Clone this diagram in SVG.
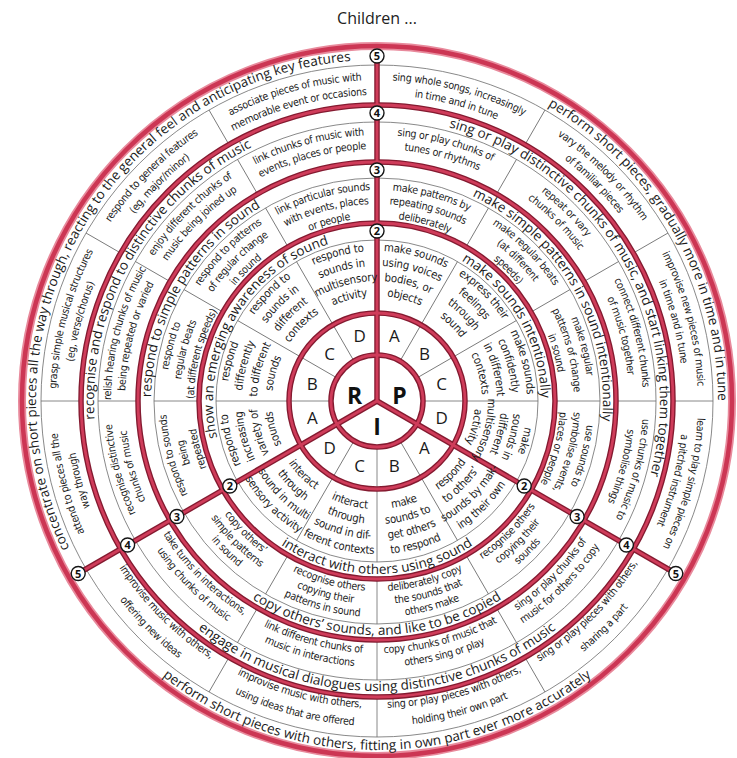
<svg xmlns="http://www.w3.org/2000/svg" width="737" height="758" viewBox="0 0 737 758">
<style>
  .it text{font-family:"Liberation Sans Narrow","DejaVu Sans Condensed","Roboto Condensed","Noto Sans",sans-serif;font-stretch:condensed;font-size:10.6px;letter-spacing:-0.28px;fill:#1c1c1c;text-anchor:middle}
  .it2 text{font-size:11.3px;letter-spacing:-0.2px}
  .hd text{font-family:"Open Sans","Noto Sans","Liberation Sans",sans-serif;font-size:13.5px;fill:#1a1a1a;text-anchor:middle}
  .thin{fill:none;stroke:#6b6b6b;stroke-width:.8}
  .redo{fill:none;stroke:#841a30;stroke-width:5.5}
  .redi{fill:none;stroke:#cf3c5a;stroke-width:2.8}
  .lt{font-family:"Open Sans","Noto Sans","Liberation Sans",sans-serif;font-size:17px;fill:#1a1a1a;text-anchor:middle}
  .big{font-family:"Open Sans","Noto Sans","Liberation Sans",sans-serif;font-size:23px;font-weight:bold;fill:#111;text-anchor:middle}
  .mk circle{fill:#fff;stroke:#151515;stroke-width:1.4}
  .mk text{font-family:"Open Sans","Noto Sans","Liberation Sans",sans-serif;font-size:11px;font-weight:bold;fill:#111;text-anchor:middle}
</style>
<defs>
  <!-- clockwise arcs (upper half), text stands outward -->
  <path id="c341" d="M-341 0A341 341 0 0 1 341 0"/>
  <path id="c321" d="M-321 0A321 321 0 0 1 321 0"/>
  <path id="c306" d="M-306 0A306 306 0 0 1 306 0"/>
  <path id="c283" d="M-283 0A283 283 0 0 1 283 0"/>
  <path id="c266" d="M-266 0A266 266 0 0 1 266 0"/>
  <path id="c252" d="M-252 0A252 252 0 0 1 252 0"/>
  <path id="c226" d="M-226 0A226 226 0 0 1 226 0"/>
  <path id="c211" d="M-211 0A211 211 0 0 1 211 0"/>
  <path id="c197" d="M-197 0A197 197 0 0 1 197 0"/>
  <path id="c183" d="M-183 0A183 183 0 0 1 183 0"/>
  <path id="c164" d="M-164 0A164 164 0 0 1 164 0"/>
  <path id="c150" d="M-150 0A150 150 0 0 1 150 0"/>
  <path id="c137" d="M-137 0A137 137 0 0 1 137 0"/>
  <path id="c135" d="M-135 0A135 135 0 0 1 135 0"/>
  <path id="c124" d="M-124 0A124 124 0 0 1 124 0"/>
  <path id="c120" d="M-120 0A120 120 0 0 1 120 0"/>
  <path id="c111" d="M-111 0A111 111 0 0 1 111 0"/>
  <path id="c105" d="M-105 0A105 105 0 0 1 105 0"/>
  <path id="c98" d="M-98 0A98 98 0 0 1 98 0"/>
  <!-- anticlockwise arcs (lower half), text stands inward -->
  <path id="a349" d="M-349 0A349 349 0 0 0 349 0"/>
  <path id="a325" d="M-325 0A325 325 0 0 0 325 0"/>
  <path id="a307" d="M-307 0A307 307 0 0 0 307 0"/>
  <path id="a290" d="M-290 0A290 290 0 0 0 290 0"/>
  <path id="a266" d="M-266 0A266 266 0 0 0 266 0"/>
  <path id="a252" d="M-252 0A252 252 0 0 0 252 0"/>
  <path id="a234" d="M-234 0A234 234 0 0 0 234 0"/>
  <path id="a216" d="M-216 0A216 216 0 0 0 216 0"/>
  <path id="a203" d="M-203 0A203 203 0 0 0 203 0"/>
  <path id="a190" d="M-190 0A190 190 0 0 0 190 0"/>
  <path id="a173" d="M-173 0A173 173 0 0 0 173 0"/>
  <path id="a153" d="M-153 0A153 153 0 0 0 153 0"/>
  <path id="a138" d="M-138 0A138 138 0 0 0 138 0"/>
  <path id="a123" d="M-123 0A123 123 0 0 0 123 0"/>
  <path id="a108" d="M-108 0A108 108 0 0 0 108 0"/>
  <!-- thin spoke segments through the item rings -->
  <path id="spoke" d="M46 0H161M178 0H223M239 0H279M296 0H336"/>
  <path id="divider" d="M0 0H355"/>
</defs>

<rect width="737" height="758" fill="#fff"/>
<text x="377" y="24" style="font-family:'Open Sans','Noto Sans','Liberation Sans',sans-serif;font-size:16px;fill:#222;text-anchor:middle">Children ...</text>

<g transform="translate(377 401)">

  <!-- rings and spokes -->
  <g id="connectors">
    <g class="thin">
      <circle r="161"/><circle r="223"/><circle r="279"/><circle r="336"/>
      <use href="#spoke" transform="rotate(0)"/>
      <use href="#spoke" transform="rotate(60)"/>
      <use href="#spoke" transform="rotate(90)"/>
      <use href="#spoke" transform="rotate(120)"/>
      <use href="#spoke" transform="rotate(180)"/>
      <use href="#spoke" transform="rotate(210)"/>
      <use href="#spoke" transform="rotate(240)"/>
      <use href="#spoke" transform="rotate(300)"/>
      <use href="#spoke" transform="rotate(330)"/>
    </g>
    <g class="redo">
      <circle r="46"/><circle r="88"/><circle r="178"/><circle r="239"/><circle r="296"/>
      <use href="#divider" transform="rotate(30)"/>
      <use href="#divider" transform="rotate(150)"/>
      <use href="#divider" transform="rotate(270)"/>
    </g>
    <g class="redi">
      <circle r="46"/><circle r="88"/><circle r="178"/><circle r="239"/><circle r="296"/>
      <use href="#divider" transform="rotate(30)"/>
      <use href="#divider" transform="rotate(150)"/>
      <use href="#divider" transform="rotate(270)"/>
    </g>
    <circle r="355" fill="none" stroke="#e88a9c" stroke-width="8"/>
    <circle r="355" fill="none" stroke="#cc3654" stroke-width="4.5"/>
  </g>

  <!-- core: R / P / I and the A-D wedges -->
  <g id="core">
    <text class="big" x="-22.5" y="3">R</text>
    <text class="big" x="22.5" y="3">P</text>
    <text class="big" x="0" y="34">I</text>
    <text class="lt" x="64.7" y="23.3">D</text>
    <text class="lt" x="47.4" y="53.4">A</text>
    <text class="lt" x="17.3" y="70.7">B</text>
    <text class="lt" x="-17.3" y="70.7">C</text>
    <text class="lt" x="-47.4" y="53.4">D</text>
    <text class="lt" x="-64.7" y="23.3">A</text>
    <text class="lt" x="-64.7" y="-11.3">B</text>
    <text class="lt" x="-47.4" y="-41.4">C</text>
    <text class="lt" x="-17.3" y="-58.7">D</text>
    <text class="lt" x="17.3" y="-58.7">A</text>
    <text class="lt" x="47.4" y="-41.4">B</text>
    <text class="lt" x="64.7" y="-11.3">C</text>
  </g>

  <!-- R sector -->
  <g id="node-R">
    <g class="hd" transform="rotate(-60)">
      <text><textPath href="#c341" startOffset="50%">concentrate on short pieces all the way through, reacting to the general feel and anticipating key features</textPath></text>
      <text><textPath href="#c283" startOffset="50%">recognise and respond to distinctive chunks of music</textPath></text>
      <text><textPath href="#c226" startOffset="50%">respond to simple patterns in sound</textPath></text>
      <text><textPath href="#c164" startOffset="50%">show an emerging awareness of sound</textPath></text>
    </g>
    <g class="it it2">
      <g transform="rotate(-15)">
        <text><textPath href="#c150" startOffset="50%">respond to</textPath></text>
        <text><textPath href="#c135" startOffset="50%">sounds in</textPath></text>
        <text><textPath href="#c120" startOffset="50%">multisensory</textPath></text>
        <text><textPath href="#c105" startOffset="50%">activity</textPath></text>
      </g>
      <g transform="rotate(-45)">
        <text><textPath href="#c150" startOffset="50%">respond to</textPath></text>
        <text><textPath href="#c135" startOffset="50%">sounds in</textPath></text>
        <text><textPath href="#c120" startOffset="50%">different</textPath></text>
        <text><textPath href="#c105" startOffset="50%">contexts</textPath></text>
      </g>
      <g transform="rotate(-75)">
        <text><textPath href="#c150" startOffset="50%">respond</textPath></text>
        <text><textPath href="#c135" startOffset="50%">differently</textPath></text>
        <text><textPath href="#c120" startOffset="50%">to different</textPath></text>
        <text><textPath href="#c105" startOffset="50%">sounds</textPath></text>
      </g>
      <g transform="rotate(-105)">
        <text><textPath href="#c150" startOffset="50%">respond to</textPath></text>
        <text><textPath href="#c135" startOffset="50%">increasing</textPath></text>
        <text><textPath href="#c120" startOffset="50%">variety of</textPath></text>
        <text><textPath href="#c105" startOffset="50%">sounds</textPath></text>
      </g>
    </g>
    <g class="it">
      <g transform="rotate(-15)">
        <text><textPath href="#c211" startOffset="50%">link particular sounds</textPath></text>
        <text><textPath href="#c197" startOffset="50%">with events, places</textPath></text>
        <text><textPath href="#c183" startOffset="50%">or people</textPath></text>
        <text><textPath href="#c266" startOffset="50%">link chunks of music with</textPath></text>
        <text><textPath href="#c252" startOffset="50%">events, places or people</textPath></text>
        <text><textPath href="#c321" startOffset="50%">associate pieces of music with</textPath></text>
        <text><textPath href="#c306" startOffset="50%">memorable event or occasions</textPath></text>
      </g>
      <g transform="rotate(-45)">
        <text><textPath href="#c211" startOffset="50%">respond to patterns</textPath></text>
        <text><textPath href="#c197" startOffset="50%">of regular change</textPath></text>
        <text><textPath href="#c183" startOffset="50%">in sound</textPath></text>
        <text><textPath href="#c266" startOffset="50%">enjoy different chunks of</textPath></text>
        <text><textPath href="#c252" startOffset="50%">music being joined up</textPath></text>
        <text><textPath href="#c321" startOffset="50%">respond to general features</textPath></text>
        <text><textPath href="#c306" startOffset="50%">(eg, major/minor)</textPath></text>
      </g>
      <g transform="rotate(-75)">
        <text><textPath href="#c211" startOffset="50%">respond to</textPath></text>
        <text><textPath href="#c197" startOffset="50%">regular beats</textPath></text>
        <text><textPath href="#c183" startOffset="50%">(at different speeds)</textPath></text>
        <text><textPath href="#c266" startOffset="50%">relish hearing chunks of music</textPath></text>
        <text><textPath href="#c252" startOffset="50%">being repeated or varied</textPath></text>
        <text><textPath href="#c321" startOffset="50%">grasp simple musical structures</textPath></text>
        <text><textPath href="#c306" startOffset="50%">(eg, verse/chorus)</textPath></text>
      </g>
      <g transform="rotate(-105)">
        <text><textPath href="#c211" startOffset="50%">respond to sounds</textPath></text>
        <text><textPath href="#c197" startOffset="50%">being</textPath></text>
        <text><textPath href="#c183" startOffset="50%">repeated</textPath></text>
        <text><textPath href="#c266" startOffset="50%">recognise distinctive</textPath></text>
        <text><textPath href="#c252" startOffset="50%">chunks of music</textPath></text>
        <text><textPath href="#c321" startOffset="50%">attend to pieces all the</textPath></text>
        <text><textPath href="#c306" startOffset="50%">way through</textPath></text>
      </g>
    </g>
  </g>

  <!-- P sector -->
  <g id="node-P">
    <g class="hd" transform="rotate(60)">
      <text><textPath href="#c341" startOffset="50%">perform short pieces, gradually more in time and in tune</textPath></text>
      <text><textPath href="#c283" startOffset="50%">sing or play distinctive chunks of music, and start linking them together</textPath></text>
      <text><textPath href="#c226" startOffset="50%">make simple patterns in sound intentionally</textPath></text>
      <text><textPath href="#c164" startOffset="50%">make sounds intentionally</textPath></text>
    </g>
    <g class="it it2">
      <g transform="rotate(15)">
        <text><textPath href="#c150" startOffset="50%">make sounds</textPath></text>
        <text><textPath href="#c135" startOffset="50%">using voices</textPath></text>
        <text><textPath href="#c120" startOffset="50%">bodies, or</textPath></text>
        <text><textPath href="#c105" startOffset="50%">objects</textPath></text>
      </g>
      <g transform="rotate(45)">
        <text><textPath href="#c150" startOffset="50%">express their</textPath></text>
        <text><textPath href="#c135" startOffset="50%">feelings</textPath></text>
        <text><textPath href="#c120" startOffset="50%">through</textPath></text>
        <text><textPath href="#c105" startOffset="50%">sound</textPath></text>
      </g>
      <g transform="rotate(75)">
        <text><textPath href="#c150" startOffset="50%">make sounds</textPath></text>
        <text><textPath href="#c135" startOffset="50%">confidently</textPath></text>
        <text><textPath href="#c120" startOffset="50%">in different</textPath></text>
        <text><textPath href="#c105" startOffset="50%">contexts</textPath></text>
      </g>
      <g transform="rotate(105)">
        <text><textPath href="#c150" startOffset="50%">make</textPath></text>
        <text><textPath href="#c137" startOffset="50%">sounds in</textPath></text>
        <text><textPath href="#c124" startOffset="50%">different</textPath></text>
        <text><textPath href="#c111" startOffset="50%">multisensory</textPath></text>
        <text><textPath href="#c98" startOffset="50%">activity</textPath></text>
      </g>
    </g>
    <g class="it">
      <g transform="rotate(15)">
        <text><textPath href="#c211" startOffset="50%">make patterns by</textPath></text>
        <text><textPath href="#c197" startOffset="50%">repeating sounds</textPath></text>
        <text><textPath href="#c183" startOffset="50%">deliberately</textPath></text>
        <text><textPath href="#c266" startOffset="50%">sing or play chunks of</textPath></text>
        <text><textPath href="#c252" startOffset="50%">tunes or rhythms</textPath></text>
        <text><textPath href="#c321" startOffset="50%">sing whole songs, increasingly</textPath></text>
        <text><textPath href="#c306" startOffset="50%">in time and in tune</textPath></text>
      </g>
      <g transform="rotate(45)">
        <text><textPath href="#c211" startOffset="50%">make regular beats</textPath></text>
        <text><textPath href="#c197" startOffset="50%">(at different</textPath></text>
        <text><textPath href="#c183" startOffset="50%">speeds)</textPath></text>
        <text><textPath href="#c266" startOffset="50%">repeat or vary</textPath></text>
        <text><textPath href="#c252" startOffset="50%">chunks of music</textPath></text>
        <text><textPath href="#c321" startOffset="50%">vary the melody or rhythm</textPath></text>
        <text><textPath href="#c306" startOffset="50%">of familiar pieces</textPath></text>
      </g>
      <g transform="rotate(75)">
        <text><textPath href="#c211" startOffset="50%">make regular</textPath></text>
        <text><textPath href="#c197" startOffset="50%">patterns of change</textPath></text>
        <text><textPath href="#c183" startOffset="50%">in sound</textPath></text>
        <text><textPath href="#c266" startOffset="50%">connect different chunks</textPath></text>
        <text><textPath href="#c252" startOffset="50%">of music together</textPath></text>
        <text><textPath href="#c321" startOffset="50%">improvise new pieces of music</textPath></text>
        <text><textPath href="#c306" startOffset="50%">in time and in tune</textPath></text>
      </g>
      <g transform="rotate(105)">
        <text><textPath href="#c211" startOffset="50%">use sounds to</textPath></text>
        <text><textPath href="#c197" startOffset="50%">symbolise events,</textPath></text>
        <text><textPath href="#c183" startOffset="50%">places or people</textPath></text>
        <text><textPath href="#c266" startOffset="50%">use chunks of music to</textPath></text>
        <text><textPath href="#c252" startOffset="50%">symbolise things</textPath></text>
        <text><textPath href="#c321" startOffset="50%">learn to play simple pieces on</textPath></text>
        <text><textPath href="#c306" startOffset="50%">a pitched instrument</textPath></text>
      </g>
    </g>
  </g>

  <!-- I sector -->
  <g id="node-I">
    <g class="hd">
      <text><textPath href="#a349" startOffset="50%">perform short pieces with others, fitting in own part ever more accurately</textPath></text>
      <text><textPath href="#a290" startOffset="50%">engage in musical dialogues using distinctive chunks of music</textPath></text>
      <text><textPath href="#a234" startOffset="50%">copy others’ sounds, and like to be copied</textPath></text>
      <text><textPath href="#a173" startOffset="50%">interact with others using sound</textPath></text>
    </g>
    <g class="it it2">
      <g transform="rotate(-45)">
        <text><textPath href="#a108" startOffset="50%">respond</textPath></text>
        <text><textPath href="#a123" startOffset="50%">to others’</textPath></text>
        <text><textPath href="#a138" startOffset="50%">sounds by mak-</textPath></text>
        <text><textPath href="#a153" startOffset="50%">ing their own</textPath></text>
      </g>
      <g transform="rotate(-15)">
        <text><textPath href="#a108" startOffset="50%">make</textPath></text>
        <text><textPath href="#a123" startOffset="50%">sounds to</textPath></text>
        <text><textPath href="#a138" startOffset="50%">get others</textPath></text>
        <text><textPath href="#a153" startOffset="50%">to respond</textPath></text>
      </g>
      <g transform="rotate(15)">
        <text><textPath href="#a108" startOffset="50%">interact</textPath></text>
        <text><textPath href="#a123" startOffset="50%">through</textPath></text>
        <text><textPath href="#a138" startOffset="50%">sound in dif-</textPath></text>
        <text><textPath href="#a153" startOffset="50%">ferent contexts</textPath></text>
      </g>
      <g transform="rotate(45)">
        <text><textPath href="#a108" startOffset="50%">interact</textPath></text>
        <text><textPath href="#a123" startOffset="50%">through</textPath></text>
        <text><textPath href="#a138" startOffset="50%">sound in multi</textPath></text>
        <text><textPath href="#a153" startOffset="50%">sensory activity</textPath></text>
      </g>
    </g>
    <g class="it">
      <g transform="rotate(-45)">
        <text><textPath href="#a190" startOffset="50%">recognise others</textPath></text>
        <text><textPath href="#a203" startOffset="50%">copying their</textPath></text>
        <text><textPath href="#a216" startOffset="50%">sounds</textPath></text>
        <text><textPath href="#a252" startOffset="50%">sing or play chunks of</textPath></text>
        <text><textPath href="#a266" startOffset="50%">music for others to copy</textPath></text>
        <text><textPath href="#a307" startOffset="50%">sing or play pieces with others,</textPath></text>
        <text><textPath href="#a325" startOffset="50%">sharing a part</textPath></text>
      </g>
      <g transform="rotate(-15)">
        <text><textPath href="#a190" startOffset="50%">deliberately copy</textPath></text>
        <text><textPath href="#a203" startOffset="50%">the sounds that</textPath></text>
        <text><textPath href="#a216" startOffset="50%">others make</textPath></text>
        <text><textPath href="#a252" startOffset="50%">copy chunks of music that</textPath></text>
        <text><textPath href="#a266" startOffset="50%">others sing or play</textPath></text>
        <text><textPath href="#a307" startOffset="50%">sing or play pieces with others,</textPath></text>
        <text><textPath href="#a325" startOffset="50%">holding their own part</textPath></text>
      </g>
      <g transform="rotate(15)">
        <text><textPath href="#a190" startOffset="50%">recognise others</textPath></text>
        <text><textPath href="#a203" startOffset="50%">copying their</textPath></text>
        <text><textPath href="#a216" startOffset="50%">patterns in sound</textPath></text>
        <text><textPath href="#a252" startOffset="50%">link different chunks of</textPath></text>
        <text><textPath href="#a266" startOffset="50%">music in interactions</textPath></text>
        <text><textPath href="#a307" startOffset="50%">improvise music with others,</textPath></text>
        <text><textPath href="#a325" startOffset="50%">using ideas that are offered</textPath></text>
      </g>
      <g transform="rotate(45)">
        <text><textPath href="#a190" startOffset="50%">copy others’</textPath></text>
        <text><textPath href="#a203" startOffset="50%">simple patterns</textPath></text>
        <text><textPath href="#a216" startOffset="50%">in sound</textPath></text>
        <text><textPath href="#a252" startOffset="50%">take turns in interactions,</textPath></text>
        <text><textPath href="#a266" startOffset="50%">using chunks of music</textPath></text>
        <text><textPath href="#a307" startOffset="50%">improvise music with others,</textPath></text>
        <text><textPath href="#a325" startOffset="50%">offering new ideas</textPath></text>
      </g>
    </g>
  </g>

  <!-- level markers on the three dividers -->
  <g id="markers" class="mk">
    <circle cx="0" cy="-170" r="7"/><text x="0" y="-166">2</text>
    <circle cx="0" cy="-231" r="7"/><text x="0" y="-227">3</text>
    <circle cx="0" cy="-288" r="7"/><text x="0" y="-284">4</text>
    <circle cx="0" cy="-345" r="7"/><text x="0" y="-341">5</text>
    <circle cx="147.2" cy="85" r="7"/><text x="147.2" y="89">2</text>
    <circle cx="200.1" cy="115.5" r="7"/><text x="200.1" y="119.5">3</text>
    <circle cx="249.4" cy="144" r="7"/><text x="249.4" y="148">4</text>
    <circle cx="298.8" cy="172.5" r="7"/><text x="298.8" y="176.5">5</text>
    <circle cx="-147.2" cy="85" r="7"/><text x="-147.2" y="89">2</text>
    <circle cx="-200.1" cy="115.5" r="7"/><text x="-200.1" y="119.5">3</text>
    <circle cx="-249.4" cy="144" r="7"/><text x="-249.4" y="148">4</text>
    <circle cx="-298.8" cy="172.5" r="7"/><text x="-298.8" y="176.5">5</text>
  </g>
</g>
</svg>
